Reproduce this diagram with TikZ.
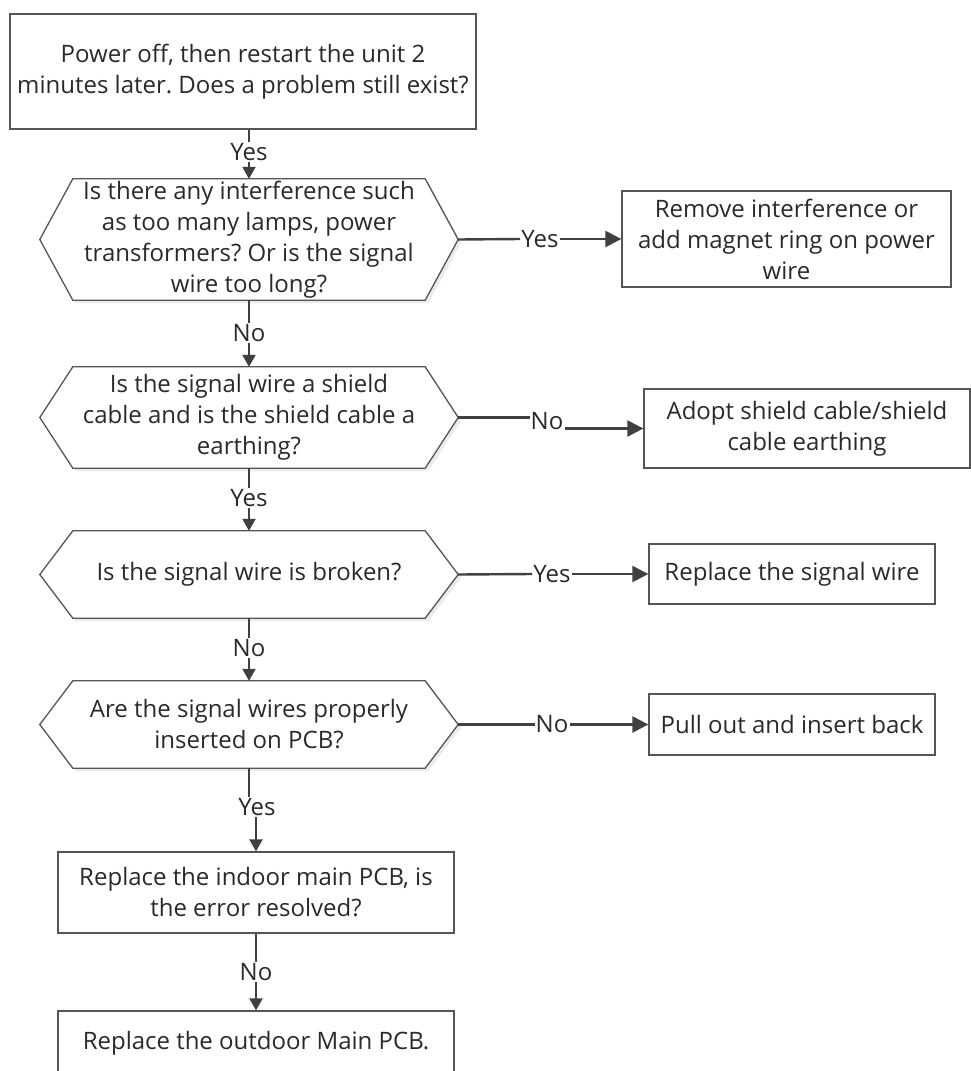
\documentclass[tikz,border=0pt]{standalone}
\usepackage{fontspec}
\setmainfont{Open Sans}
\frenchspacing
\usetikzlibrary{arrows.meta,calc}
\definecolor{lineC}{HTML}{404040}
\definecolor{edgeC}{HTML}{555555}
\definecolor{txtC}{HTML}{2A2A2A}
\definecolor{shadowC}{HTML}{EBEBEB}
\tikzset{
  base/.style={inner sep=0pt, align=center, text=txtC, font=\fontsize{24}{31}\selectfont},
  boxnode/.style={base, draw=edgeC, line width=1.3pt, fill=white},
  hexnode/.style={base},
  lbl/.style={text=txtC, font=\fontsize{24}{28}\selectfont, fill=white, inner sep=1pt},
  conn/.style={draw=lineC, line width=2.4pt},
  arr/.style={conn, -{Triangle[length=12pt,width=13pt]}},
  harr/.style={conn, -{Triangle[length=16pt,width=16pt]}},
  hexline/.style={draw=edgeC, line width=1.3pt, fill=white},
}
\newcommand{\drawhex}[1]{%
  \fill[shadowC] ([shift={(3,3)}]#1.west) -- ([shift={(36,3)}]#1.north west) -- ([shift={(-30,3)}]#1.north east) -- ([shift={(3,3)}]#1.east) -- ([shift={(-30,3)}]#1.south east) -- ([shift={(36,3)}]#1.south west) -- cycle;
  \draw[hexline] (#1.west) -- ([xshift=33]#1.north west) -- ([xshift=-33]#1.north east) -- (#1.east) -- ([xshift=-33]#1.south east) -- ([xshift=33]#1.south west) -- cycle;}
\begin{document}
\begin{tikzpicture}[x=1pt,y=-1pt]
\useasboundingbox (0,0) rectangle (971,1071);
\begin{scope}
\clip (0,0) rectangle (971,1071);
% hexagon frames
\node[hexnode, minimum width=418pt, minimum height=121pt] (h1) at (249,239.5) {};
\node[hexnode, minimum width=418pt, minimum height=101pt] (h2) at (249,417.5) {};
\node[hexnode, minimum width=418pt, minimum height=87pt] (h3) at (249,574.5) {};
\node[hexnode, minimum width=418pt, minimum height=87pt] (h4) at (249,724.5) {};
\drawhex{h1}\drawhex{h2}\drawhex{h3}\drawhex{h4}
\node[hexnode] (t1) at (h1) {Is there any interference such\\as too many lamps, power\\transformers? Or is the signal\\wire too long?};
\node[hexnode] (t2) at (h2) {Is the signal wire a shield\\cable and is the shield cable a\\earthing?};
\node[hexnode] (t3) at (h3) {Is the signal wire is broken?};
\node[hexnode] (t4) at (h4) {Are the signal wires properly\\inserted on PCB?};
% boxes
\node[boxnode, minimum width=466pt, minimum height=115pt] (b1) at (243,71.5) {Power off, then restart the unit 2\\minutes later. Does a problem still exist?};
\node[boxnode, minimum width=329pt, minimum height=96pt] (b2) at (786.5,239) {Remove interference or\\add magnet ring on power\\wire};
\node[boxnode, minimum width=326pt, minimum height=79pt] (b3) at (807,428.5) {Adopt shield cable/shield\\cable earthing};
\node[boxnode, minimum width=286pt, minimum height=60pt] (b4) at (792,574) {Replace the signal wire};
\node[boxnode, minimum width=286pt, minimum height=61pt] (b5) at (792,724.5) {Pull out and insert back};
\node[boxnode, minimum width=396pt, minimum height=81pt] (b6) at (256,892.5) {Replace the indoor main PCB, is\\the error resolved?};
\node[boxnode, minimum width=396pt, minimum height=64pt] (b7) at (256,1043) {Replace the outdoor Main PCB.};
% labels
\node[lbl] (l1) at (249,152) {Yes};
\node[lbl] (l2) at (540,239) {Yes};
\node[lbl] (l3) at (249,333) {No};
\node[lbl] (l4) at (547,421) {No};
\node[lbl] (l5) at (249,498) {Yes};
\node[lbl] (l6) at (552,574) {Yes};
\node[lbl] (l7) at (249,648) {No};
\node[lbl] (l8) at (552,724.5) {No};
\node[lbl] (l9) at (257,807) {Yes};
\node[lbl] (l10) at (256,972) {No};
% connectors
\draw[conn] (b1.south -| h1.north) -- (l1.north);
\draw[arr] (l1.south) -- (h1.north);
\draw[conn] (h1.east) -- (l2.west);
\draw[harr] (l2.east) -- (b2.west);
\draw[conn] (h1.south) -- (l3.north);
\draw[arr] (l3.south) -- (h2.north);
\draw[conn] (h2.east) -- (h2.east -| l4.west);
\draw[harr] (l4.east |- b3.west) -- (b3.west);
\draw[conn] (h2.south) -- (l5.north);
\draw[arr] (l5.south) -- (h3.north);
\draw[conn] (h3.east) -- (l6.west);
\draw[harr] (l6.east) -- (b4.west);
\draw[conn] (h3.south) -- (l7.north);
\draw[arr] (l7.south) -- (h4.north);
\draw[conn] (h4.east) -- (l8.west);
\draw[harr] (l8.east) -- (b5.west);
\draw[conn] (h4.south) -- (h4.south |- l9.north);
\draw[arr] (l9.south -| b6.north) -- (b6.north);
\draw[conn] (b6.south) -- (l10.north);
\draw[arr] (l10.south) -- (b7.north);
\end{scope}
\end{tikzpicture}
\end{document}
